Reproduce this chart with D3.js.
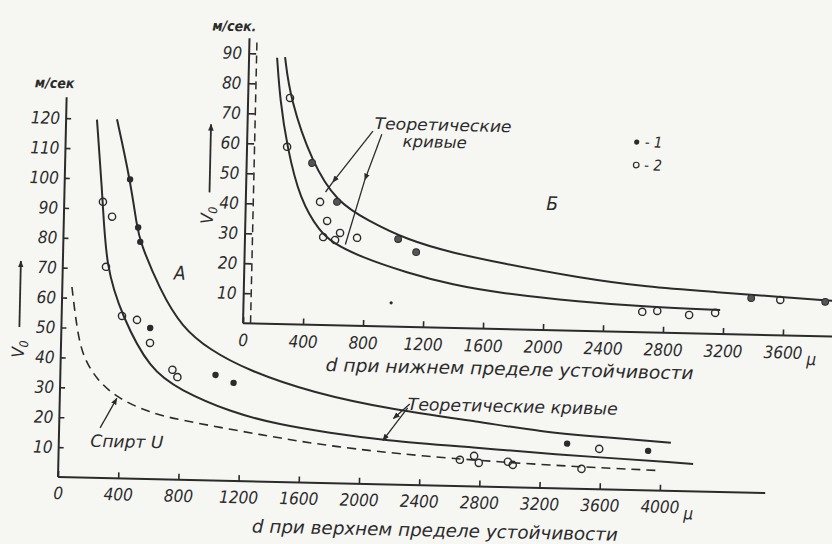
<!DOCTYPE html>
<html>
<head>
<meta charset="utf-8">
<script src="https://cdn.jsdelivr.net/npm/d3@7"></script>
<style>
  html, body { margin: 0; padding: 0; background: #f6f6f3; }
  svg { display: block; }
  text {
    font-family: "Liberation Sans Narrow", "DejaVu Sans Condensed", "Liberation Sans", sans-serif;
    font-style: italic;
    fill: #2b2b2b;
  }
  .tick text { font-size: 17px; }
  .ink { stroke: #2b2b2b; fill: none; }
</style>
</head>
<body>
<div id="chart"></div>
<script>
// Панель А: d при верхнем пределе устойчивости
const aUpperD = [338, 434, 487, 510, 649, 800, 991, 1240, 1682, 2216, 2796, 3203, 3595, 4066];
const aUpperV = [120, 100, 84.2, 79.2, 63.3, 51, 43.6, 37.2, 30, 25, 21.6, 18.8, 17.5, 16.1];
const aLowerD = [205, 257, 287, 401, 595, 797, 1133, 1467, 1800, 2134, 2800, 3200, 4217];
const aLowerV = [119.7, 92.3, 70.6, 54.3, 36.5, 30, 23, 19.1, 16.8, 14.8, 12.9, 11.6, 9.2];
const aSpiritD = [64, 104, 148, 245, 380, 601, 802, 1155, 1469, 1815, 2400, 3200, 4000];
const aSpiritV = [63.6, 49.3, 40.3, 32.7, 26.9, 22.1, 20, 17.1, 14.7, 12.3, 9.7, 7.7, 6.7];
const aFilledD = [434, 495, 511, 590, 1031, 1152, 3377, 3916];
const aFilledV = [100, 84, 79.2, 50.5, 35.3, 32.8, 15, 13.2];
const aOpenD = [257, 320, 287, 401, 501, 591, 744, 778, 2667, 2761, 2793, 2986, 3019, 3476, 3591];
const aOpenV = [92.3, 87.4, 70.6, 54.3, 53.1, 45.5, 36.7, 34.3, 8.8, 10.2, 7.9, 8.5, 7.5, 6.7, 13.5];
const aXTicks = [0, 400, 800, 1200, 1600, 2000, 2400, 2800, 3200, 3600, 4000];
const aYTicks = [10, 20, 30, 40, 50, 60, 70, 80, 90, 100, 110, 120];

// Панель Б: d при нижнем пределе устойчивости
const bUpperD = [240, 279, 436, 608, 811, 1081, 1389, 1704, 2240, 2688, 3129, 3576, 3923, 4100];
const bUpperV = [89, 75.4, 53.9, 41.1, 35.3, 29, 25, 22, 17.6, 15.1, 14, 12.8, 11.9, 11.6];
const bLowerD = [187, 213, 267, 361, 499, 587, 770, 1086, 1394, 1705, 2243, 2691, 3178];
const bLowerV = [88.7, 74.7, 59.1, 41.5, 31, 27.4, 23, 18, 14.3, 12, 9.6, 8.5, 8];
const bFilledD = [436, 608, 1021, 1143, 3383, 3877];
const bFilledV = [53.9, 41.1, 29.2, 25, 12.2, 11.5];
const bSpeckD = [984];
const bSpeckV = [7.9];
const bOpenD = [279, 267, 495, 545, 521, 601, 633, 747, 2659, 2759, 2972, 3145, 3577];
const bOpenV = [75.4, 59.1, 41, 34.7, 29.3, 28.4, 30.8, 29.3, 6.8, 7.2, 6.1, 7, 11.8];
const bXTicks = [0, 400, 800, 1200, 1600, 2000, 2400, 2800, 3200, 3600];
const bYTicks = [10, 20, 30, 40, 50, 60, 70, 80, 90];

const W = 832, H = 544;
const zip = (xs, ys) => xs.map((x, i) => [x, ys[i]]);
const fmt = d3.format('d');

const svg = d3.select('#chart').append('svg')
    .attr('width', W)
    .attr('height', H);

svg.append('rect').attr('width', W).attr('height', H).attr('fill', '#f6f6f3');

const defs = svg.append('defs');
defs.append('marker')
    .attr('id', 'arr')
    .attr('viewBox', '0 0 10 10')
    .attr('refX', 9).attr('refY', 5)
    .attr('markerWidth', 7).attr('markerHeight', 7)
    .attr('markerUnits', 'userSpaceOnUse')
    .attr('orient', 'auto')
    .append('path')
    .attr('d', 'M0,1 L10,5 L0,9 z')
    .attr('fill', '#2b2b2b');

// скан слегка повёрнут
const root = svg.append('g').attr('transform', 'rotate(1.3, 58, 477)');

// ---------- панель А ----------
const xA = d3.scaleLinear().domain([0, 4000]).range([58, 660]);
const yA = d3.scaleLinear().domain([0, 120]).range([477, 118]);
const gA = root.append('g');

gA.append('g')
    .attr('transform', `translate(0,${yA(0)})`)
    .call(d3.axisBottom(xA).tickValues(aXTicks).tickFormat(fmt).tickSizeInner(-6).tickSizeOuter(0).tickPadding(10))
    .call(g => g.select('.domain').remove());
gA.append('g')
    .attr('transform', `translate(${xA(0)},0)`)
    .call(d3.axisLeft(yA).tickValues(aYTicks).tickFormat(fmt).tickSizeInner(-5).tickSizeOuter(0).tickPadding(6))
    .call(g => g.select('.domain').remove());
gA.selectAll('.tick line').attr('stroke', '#2b2b2b').attr('stroke-width', 1.6);
gA.selectAll('.tick text').attr('fill', '#2b2b2b');

gA.append('line').attr('class', 'ink').attr('stroke-width', 2)
    .attr('x1', xA(0)).attr('x2', xA(4700)).attr('y1', yA(0)).attr('y2', yA(0));
gA.append('line').attr('class', 'ink').attr('stroke-width', 2)
    .attr('x1', xA(0)).attr('x2', xA(0)).attr('y1', yA(0)).attr('y2', yA(127));

const lineA = d3.line().x(d => xA(d[0])).y(d => yA(d[1])).curve(d3.curveBasis);
gA.append('path').attr('class', 'ink').attr('stroke-width', 2).attr('d', lineA(zip(aUpperD, aUpperV)));
gA.append('path').attr('class', 'ink').attr('stroke-width', 2).attr('d', lineA(zip(aLowerD, aLowerV)));
gA.append('path').attr('class', 'ink').attr('stroke-width', 1.6)
    .attr('stroke-dasharray', '9,6')
    .attr('d', lineA(zip(aSpiritD, aSpiritV)));

gA.selectAll('.a-open').data(zip(aOpenD, aOpenV)).enter()
    .append('circle').attr('class', 'ink')
    .attr('cx', d => xA(d[0])).attr('cy', d => yA(d[1]))
    .attr('r', 3.6).attr('stroke-width', 1.4).attr('fill', '#f6f6f3');
gA.selectAll('.a-filled').data(zip(aFilledD, aFilledV)).enter()
    .append('circle')
    .attr('cx', d => xA(d[0])).attr('cy', d => yA(d[1]))
    .attr('r', 3.2).attr('fill', '#2b2b2b');

gA.append('text').attr('x', 26).attr('y', 88).style('font-size', '14px').style('font-weight', 'bold').text('м/сек');
gA.append('text').attr('x', xA(4000) + 24).attr('y', yA(0) + 28).style('font-size', '17px').text('μ');
gA.append('text').attr('x', 436).attr('y', 528).attr('text-anchor', 'middle')
    .attr('textLength', 366).attr('lengthAdjust', 'spacingAndGlyphs')
    .style('font-size', '18px').text('d при верхнем пределе устойчивости');
gA.append('text').attr('x', 175).attr('y', 277).attr('text-anchor', 'middle')
    .style('font-size', '19px').text('А');

// V0 со стрелкой
gA.append('line').attr('class', 'ink').attr('stroke-width', 1.8)
    .attr('x1', 16).attr('y1', 328).attr('x2', 16).attr('y2', 262)
    .attr('marker-end', 'url(#arr)');
gA.append('text').attr('transform', 'translate(21,350) rotate(-90)').attr('text-anchor', 'middle')
    .style('font-size', '17px').html('V<tspan dy="4" style="font-size:12px">0</tspan>');

// Спирт U
gA.append('text').attr('x', 126).attr('y', 446).attr('text-anchor', 'middle')
    .attr('textLength', 73).attr('lengthAdjust', 'spacingAndGlyphs')
    .style('font-size', '17px').text('Спирт U');
gA.append('line').attr('class', 'ink').attr('stroke-width', 1.3)
    .attr('x1', 99).attr('y1', 427).attr('x2', 115).attr('y2', 397)
    .attr('marker-end', 'url(#arr)');

// Теоретические кривые (А)
gA.append('text').attr('x', 511).attr('y', 402).attr('text-anchor', 'middle')
    .attr('textLength', 210).attr('lengthAdjust', 'spacingAndGlyphs')
    .style('font-size', '17px').text('Теоретические кривые');
gA.append('line').attr('class', 'ink').attr('stroke-width', 1.3)
    .attr('x1', 408).attr('y1', 396).attr('x2', 392).attr('y2', 411)
    .attr('marker-end', 'url(#arr)');
gA.append('line').attr('class', 'ink').attr('stroke-width', 1.3)
    .attr('x1', 406).attr('y1', 400).attr('x2', 382).attr('y2', 433)
    .attr('marker-end', 'url(#arr)');

// ---------- панель Б ----------
const xB = d3.scaleLinear().domain([0, 4000]).range([239.5, 839.5]);
const yB = d3.scaleLinear().domain([0, 90]).range([319, 49]);
const gB = root.append('g');

gB.append('g')
    .attr('transform', `translate(0,${yB(0)})`)
    .call(d3.axisBottom(xB).tickValues(bXTicks).tickFormat(fmt).tickSizeInner(-6).tickSizeOuter(0).tickPadding(11))
    .call(g => g.select('.domain').remove());
gB.append('g')
    .attr('transform', `translate(${xB(0)},0)`)
    .call(d3.axisLeft(yB).tickValues(bYTicks).tickFormat(fmt).tickSizeInner(-7).tickSizeOuter(0).tickPadding(7))
    .call(g => g.select('.domain').remove());
gB.selectAll('.tick line').attr('stroke', '#2b2b2b').attr('stroke-width', 1.6);
gB.selectAll('.tick text').attr('fill', '#2b2b2b');

gB.append('line').attr('class', 'ink').attr('stroke-width', 2)
    .attr('x1', xB(0)).attr('x2', xB(4200)).attr('y1', yB(0)).attr('y2', yB(0));
gB.append('line').attr('class', 'ink').attr('stroke-width', 2)
    .attr('x1', xB(0)).attr('x2', xB(0)).attr('y1', yB(0)).attr('y2', yB(95));
gB.append('line').attr('class', 'ink').attr('stroke-width', 1.5)
    .attr('stroke-dasharray', '8,5')
    .attr('x1', xB(50)).attr('x2', xB(50)).attr('y1', yB(0)).attr('y2', yB(95));

const lineB = d3.line().x(d => xB(d[0])).y(d => yB(d[1])).curve(d3.curveBasis);
gB.append('path').attr('class', 'ink').attr('stroke-width', 2).attr('d', lineB(zip(bUpperD, bUpperV)));
gB.append('path').attr('class', 'ink').attr('stroke-width', 2).attr('d', lineB(zip(bLowerD, bLowerV)));

gB.selectAll('.b-open').data(zip(bOpenD, bOpenV)).enter()
    .append('circle').attr('class', 'ink')
    .attr('cx', d => xB(d[0])).attr('cy', d => yB(d[1]))
    .attr('r', 3.6).attr('stroke-width', 1.4).attr('fill', '#f6f6f3');
gB.selectAll('.b-filled').data(zip(bFilledD, bFilledV)).enter()
    .append('circle')
    .attr('cx', d => xB(d[0])).attr('cy', d => yB(d[1]))
    .attr('r', 3.4).attr('fill', '#555').attr('stroke', '#2b2b2b').attr('stroke-width', 1);
gB.selectAll('.b-speck').data(zip(bSpeckD, bSpeckV)).enter()
    .append('circle')
    .attr('cx', d => xB(d[0])).attr('cy', d => yB(d[1]))
    .attr('r', 1.6).attr('fill', '#2b2b2b');

gB.append('text').attr('x', 202).attr('y', 27).style('font-size', '14px').style('font-weight', 'bold').text('м/сек.');
gB.append('text').attr('x', xB(3600) + 24).attr('y', yB(0) + 29).style('font-size', '17px').text('μ');
gB.append('text').attr('x', 507).attr('y', 365).attr('text-anchor', 'middle')
    .attr('textLength', 368).attr('lengthAdjust', 'spacingAndGlyphs')
    .style('font-size', '18px').text('d при нижнем пределе устойчивости');
gB.append('text').attr('x', 546).attr('y', 199).attr('text-anchor', 'middle')
    .style('font-size', '19px').text('Б');

gB.append('line').attr('class', 'ink').attr('stroke-width', 1.8)
    .attr('x1', 203).attr('y1', 189).attr('x2', 203).attr('y2', 121)
    .attr('marker-end', 'url(#arr)');
gB.append('text').attr('transform', 'translate(207,212) rotate(-90)').attr('text-anchor', 'middle')
    .style('font-size', '17px').html('V<tspan dy="4" style="font-size:12px">0</tspan>');

gB.append('text').attr('x', 435).attr('y', 122).attr('text-anchor', 'middle')
    .attr('textLength', 137).attr('lengthAdjust', 'spacingAndGlyphs')
    .style('font-size', '16px').text('Теоретические');
gB.append('text').attr('x', 427).attr('y', 139).attr('text-anchor', 'middle')
    .attr('textLength', 64).attr('lengthAdjust', 'spacingAndGlyphs')
    .style('font-size', '16px').text('кривые');
gB.append('polyline').attr('class', 'ink').attr('stroke-width', 1.3)
    .attr('points', '365,124 326,176').attr('marker-end', 'url(#arr)');
gB.append('line').attr('class', 'ink').attr('stroke-width', 1.3)
    .attr('x1', 326).attr('y1', 176).attr('x2', 319).attr('y2', 186);
gB.append('polyline').attr('class', 'ink').attr('stroke-width', 1.3)
    .attr('points', '374,127 358,173').attr('marker-end', 'url(#arr)');
gB.append('line').attr('class', 'ink').attr('stroke-width', 1.3)
    .attr('x1', 358).attr('y1', 173).attr('x2', 340).attr('y2', 238);

// легенда
gB.append('circle').attr('cx', 629).attr('cy', 129).attr('r', 2.6).attr('fill', '#2b2b2b');
gB.append('text').attr('x', 637).attr('y', 134).style('font-size', '15px').text('- 1');
gB.append('circle').attr('cx', 629).attr('cy', 152).attr('r', 2.8)
    .attr('fill', 'none').attr('stroke', '#2b2b2b').attr('stroke-width', 1.2);
gB.append('text').attr('x', 637).attr('y', 157).style('font-size', '15px').text('- 2');
</script>
</body>
</html>
